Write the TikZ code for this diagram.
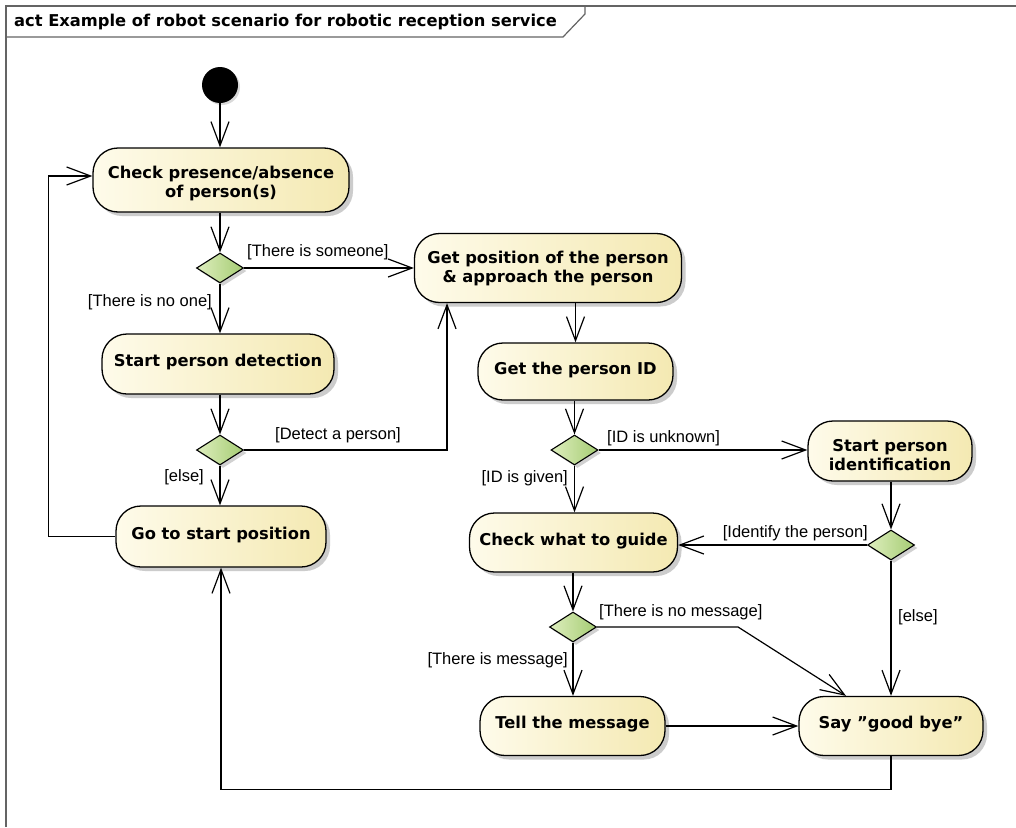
\documentclass[tikz,border=0pt]{standalone}
\usepackage{fontspec}
\setmainfont{Liberation Sans}
\newfontfamily\boxfam{DejaVu Sans}
\usetikzlibrary{arrows.meta,shadows,calc,shapes.geometric}
\definecolor{actL}{RGB}{254,251,234}
\definecolor{actR}{RGB}{244,233,178}
\definecolor{decL}{RGB}{222,238,190}
\definecolor{decR}{RGB}{165,204,115}
\definecolor{framec}{RGB}{100,100,100}
\newcommand{\nodefont}{\boxfam\bfseries\fontsize{16.3}{19}\selectfont}
\newcommand{\titlefont}{\boxfam\bfseries\fontsize{16.3}{19}\selectfont}
\newcommand{\guardfont}{\fontsize{16.5}{19}\selectfont}
\newcommand{\downstrut}{\rule{0pt}{20pt}}
\tikzset{
  act/.style={draw=black, line width=1.3pt, rounded corners=25pt,
    left color=actL, right color=actR, align=center, inner sep=0pt,
    font=\nodefont,
    drop shadow={shadow xshift=4pt, shadow yshift=-4pt, fill=black!20, opacity=1}},
  oneline/.style={text height=12pt, text depth=7pt},
  dec/.style={diamond, shape aspect=1.57, draw=black, line width=1.1pt,
    left color=decL, right color=decR, inner sep=0pt,
    minimum width=47pt, minimum height=30pt,
    drop shadow={shadow xshift=3pt, shadow yshift=-3pt, fill=black!18, opacity=1}},
  flow/.style={line width=1.2pt,
    -{Straight Barb[length=24pt,width=18pt,line width=1.2pt]}},
  guard/.style={font=\guardfont, inner sep=0pt},
  framel/.style={draw=framec, line width=1.5pt},
}
\begin{document}
\begin{tikzpicture}[x=1pt,y=-1pt]
\useasboundingbox (0,0) rectangle (1016,827);
\fill[white] (0,0) rectangle (1016,827);
% frame
\draw[framel] (6,827) -- (6,6) -- (1016,6);
\draw[framel, line width=1.2pt] (6,37) -- (563,37) -- (585,14) -- (585,6);
\node[font=\titlefont, anchor=west, inner sep=0pt] (title) at (14,22)
  {act Example of robot scenario for robotic reception service};

% nodes
\node[circle, fill=black, minimum size=36pt, inner sep=0pt,
  drop shadow={shadow xshift=2pt, shadow yshift=-2pt, fill=black!15, opacity=1}] (init) at (220,85) {};
\node[act, minimum width=256pt, minimum height=64pt] (check) at (221,180)
  {\downstrut Check presence/absence\\of person(s)};
\node[act, minimum width=267pt, minimum height=69pt] (getpos) at (548,268)
  {Get position of the person\\\& approach the person};
\node[act, oneline, minimum width=232pt, minimum height=60pt] (detect) at (218,364)
  {Start person detection};
\node[act, oneline, minimum width=195pt, minimum height=57pt] (getid) at (575.5,371.5)
  {Get the person ID};
\node[act, oneline, minimum width=210pt, minimum height=61pt] (go) at (221,536.5)
  {Go to start position};
\node[act, minimum width=164pt, minimum height=60pt] (ident) at (890,451)
  {\downstrut Start person\\identification};
\node[act, oneline, minimum width=208pt, minimum height=59pt] (guide) at (573.5,542.5)
  {Check what to guide};
\node[act, oneline, minimum width=185pt, minimum height=59pt] (tell) at (572.5,726)
  {Tell the message};
\node[act, oneline, minimum width=184pt, minimum height=59pt] (say) at (891,726)
  {Say ”good bye”};

\node[dec] (d1) at (220,268) {};
\node[dec] (d2) at (220,450) {};
\node[dec] (d3) at (574.5,450) {};
\node[dec] (d4) at (891,545) {};
\node[dec] (d5) at (573,627) {};

% helper coordinates
\coordinate (tipA) at ($(getpos.south)+(-101,0)$);
\coordinate (tipB) at ($(check.west)+(0,-4)$);
\coordinate (bendC) at ($(d5.east)+(141,0)$);
\coordinate (tipC) at ($(say.north)+(-45,0)$);

% connectors
\draw[flow] (init) -- (init |- check.north);
\draw[flow] (check.south -| d1) -- (d1.north);
\draw[flow] (d1.south) -- (d1.south |- detect.north);
\draw[flow] (detect.south -| d2) -- (d2.north);
\draw[flow] (d2.south) -- (d2.south |- go.north);
\draw[flow] (d1.east) -- (d1.east -| getpos.west);
\draw[flow] (d2.east) -| (tipA);
\draw[flow] (go.west) -- ++(-67,0) |- (tipB);

\draw[flow] (getpos.south -| getid) -- (getid.north);
\draw[flow] (getid.south -| d3) -- (d3.north);
\draw[flow] (d3.south) -- (d3.south |- guide.north);
\draw[flow] (d3.east) -- (d3.east -| ident.west);
\draw[flow] (ident.south -| d4) -- (d4.north);
\draw[flow] (d4.west) -- (d4.west -| guide.east);
\draw[flow] (d4.south) -- (d4.south |- say.north);
\draw[flow] (guide.south -| d5) -- (d5.north);
\draw[flow] (d5.south) -- (d5.south |- tell.north);
\draw[flow] (d5.east) -- (bendC) -- (tipC);
\draw[flow] (tell.east) -- (tell.east -| say.west);
\draw[flow] (say.south) -- ++(0,33) -| (go.south);

% guards
\node[guard, anchor=west] (g1) at (247,252) {[There is someone]};
\node[guard, anchor=east] (g2) at (212,302) {[There is no one]};
\node[guard, anchor=west] (g3) at (275,435) {[Detect a person]};
\node[guard, anchor=east] (g4) at (204,477) {[else]};
\node[guard, anchor=west] (g5) at (607,438) {[ID is unknown]};
\node[guard, anchor=east] (g6) at (568,478) {[ID is given]};
\node[guard, anchor=east] (g7) at (868,533) {[Identify the person]};
\node[guard, anchor=west] (g8) at (898,617) {[else]};
\node[guard, anchor=west] (g9) at (599,612) {[There is no message]};
\node[guard, anchor=east] (g10) at (568,660) {[There is message]};
\end{tikzpicture}
\end{document}
